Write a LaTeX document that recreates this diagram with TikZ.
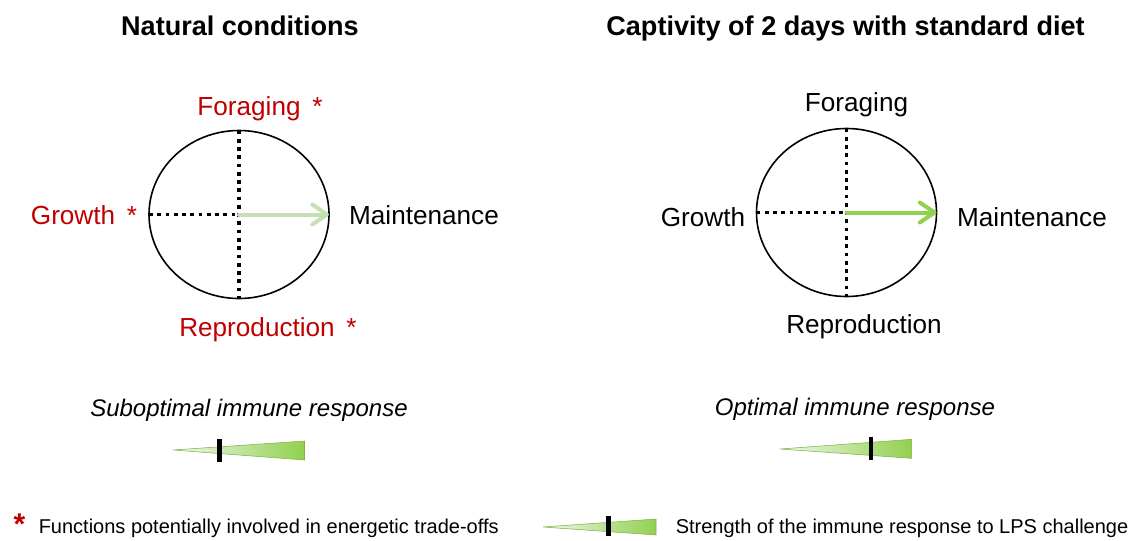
\documentclass[tikz,border=0pt]{standalone}
\usepackage{fontspec}
\setmainfont{Liberation Sans}
\usetikzlibrary{shapes.geometric,arrows.meta}
\definecolor{redlab}{RGB}{192,0,0}
\definecolor{palegreen}{RGB}{197,224,180}
\definecolor{brightgreen}{RGB}{146,208,80}
\definecolor{tipgreen}{RGB}{240,248,235}
\tikzset{
  titletext/.style={font=\fontsize{20.3}{24}\selectfont\bfseries, anchor=base, inner sep=0pt},
  labtext/.style={font=\fontsize{19.6}{23}\selectfont, anchor=base, inner sep=0pt},
  redtext/.style={labtext, text=redlab},
  resptext/.style={font=\fontsize{18}{21}\selectfont\itshape, anchor=base, inner sep=0pt},
  legtext/.style={font=\fontsize{15}{18}\selectfont, anchor=base west, inner sep=0pt},
  energycircle/.style={draw=black, line width=1.2pt, ellipse, minimum width=135pt, minimum height=126pt, inner sep=0pt, outer sep=0pt},
  dotline/.style={line width=2.8pt, dash pattern=on 2.8pt off 3.4pt, black},
  energyarrow/.style={line width=3pt, line cap=round, -{Straight Barb[length=11pt,width=15pt,line cap=round,line join=round]}},
  wedge/.style={left color=tipgreen, right color=brightgreen, draw=brightgreen!85!black, line width=0.4pt},
  bar/.style={line width=3.4pt, black},
}
\begin{document}
\begin{tikzpicture}[x=0.75pt,y=-0.75pt]
\useasboundingbox (0,0) rectangle (1141,540);
% titles
\node[titletext] (t1) at (240,35) {Natural conditions};
\node[titletext] (t2) at (845.5,35) {Captivity of 2 days with standard diet};
% left circle
\node[energycircle] (c1) at (239,214.5) {};
\draw[dotline] (c1.north) -- (c1.south);
\draw[dotline] (c1.west) -- (c1.center);
\draw[energyarrow, palegreen] (c1.center) -- (c1.east);
\node[redtext] (f1) at (260,115) {Foraging\hspace{0.45em}*};
\node[redtext] (g1) at (84,224) {Growth\hspace{0.45em}*};
\node[labtext] (m1) at (424,224) {Maintenance};
\node[redtext] (r1) at (268,336.7) {Reproduction\hspace{0.45em}*};
% right circle
\node[energycircle] (c2) at (846.5,212.5) {};
\draw[dotline] (c2.north) -- (c2.south);
\draw[dotline] (c2.west) -- (c2.center);
\draw[energyarrow, brightgreen] (c2.center) -- (c2.east);
\node[labtext] (f2) at (856.5,111.7) {Foraging};
\node[labtext] (g2) at (703,226.7) {Growth};
\node[labtext] (m2) at (1032,226.7) {Maintenance};
\node[labtext] (r2) at (864,333) {Reproduction};
% responses
\node[resptext] (s1) at (249,416) {Suboptimal immune response};
\node[resptext] (s2) at (855,415) {Optimal immune response};
% wedges
\shade[wedge] (173,450) -- (304.5,441) -- (304.5,460) -- cycle;
\draw[bar] (219.5,439) -- (219.5,461.5);
\shade[wedge] (780,449) -- (911.7,439.3) -- (911.7,458.3) -- cycle;
\draw[bar] (871,437) -- (871,460);
% legend
\node[font=\fontsize{22.5}{24}\selectfont\bfseries, text=redlab, anchor=base, inner sep=0pt] (ast) at (19.5,534) {*};
\node[legtext] (l1) at (38.5,533) {Functions potentially involved in energetic trade-offs};
\shade[wedge] (543,527) -- (656,519) -- (656,535) -- cycle;
\draw[bar] (608.7,516) -- (608.7,536);
\node[legtext] (l2) at (675.5,533) {Strength of the immune response to LPS challenge};
\end{tikzpicture}
\end{document}
